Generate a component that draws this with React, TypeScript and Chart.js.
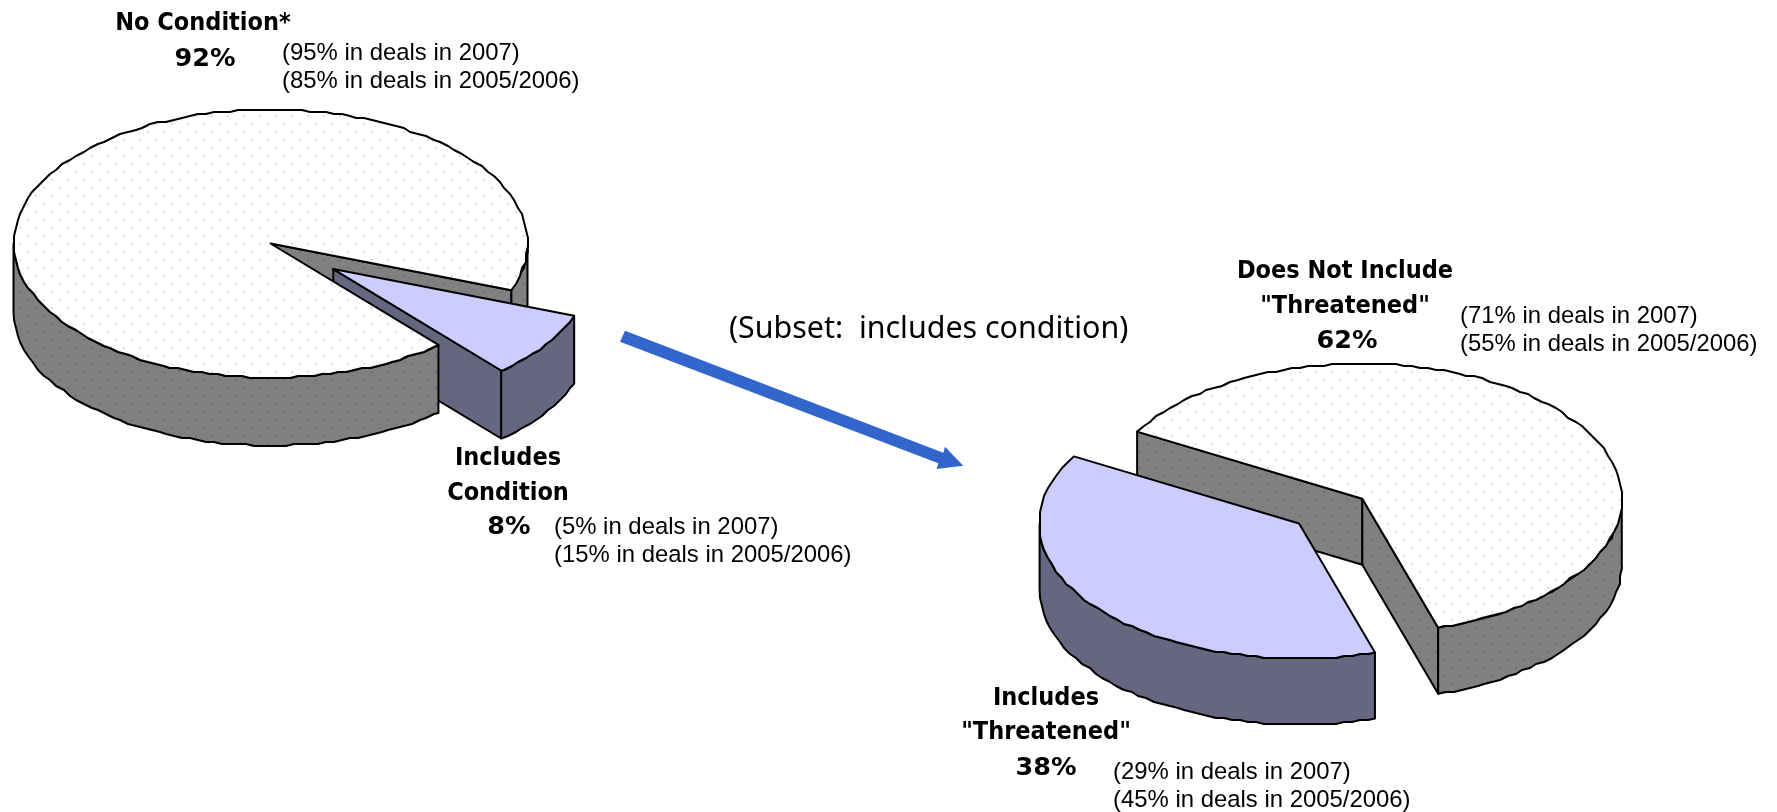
import React, { useEffect, useRef } from "react";
import { Chart, registerables } from "chart.js";

Chart.register(...registerables);

const W = 1777;
const H = 812;

const firstCategories = ["Includes Condition", "No Condition*"];
const firstValues = [8, 92];
const secondCategories = ['Includes "Threatened"', 'Does Not Include "Threatened"'];
const secondValues = [38, 62];

const LIGHT = { top: "#CCCCFF", side: "#666680", dot: null, topDot: null };
const DOTTED = { top: "#FFFFFF", side: "#808080", topDot: "#DCDCFF", dot: "#6E6E96" };

// centre, radii and tilt of each pie; the first slice is pulled out along pullAngle
const firstPie = { cx: 270.5, cy: 243.5, rx: 257, ry: 134, depth: 68, rotation: 110.4, pull: 0.31, pullAngle: 38 };
const secondPie = { cx: 1362.3, cy: 498.7, rx: 259.5, ry: 135, depth: 66, rotation: 163, pull: 0.305, pullAngle: 143 };

const wordLabels: [string, number, number][] = [
  ["No Condition*", 203, 21],
  ["Includes", 508, 456],
  ["Condition", 508, 491],
  ["Does Not Include", 1345, 269],
  ['"Threatened"', 1345, 304],
  ["Includes", 1046, 696],
  ['"Threatened"', 1046, 730],
];
const percentLabels: [string, number, number][] = [
  ["92%", 205, 57],
  ["8%", 509, 525],
  ["62%", 1347, 339],
  ["38%", 1046, 766],
];
const noteLabels: [string, number, number][] = [
  ["(95% in deals in 2007)", 282, 52],
  ["(85% in deals in 2005/2006)", 282, 80],
  ["(5% in deals in 2007)", 554, 526],
  ["(15% in deals in 2005/2006)", 554, 554],
  ["(71% in deals in 2007)", 1460, 315],
  ["(55% in deals in 2005/2006)", 1460, 343],
  ["(29% in deals in 2007)", 1113, 771],
  ["(45% in deals in 2005/2006)", 1113, 799],
];
const subsetLabel = "(Subset:  includes condition)";

function dotPattern(ctx: CanvasRenderingContext2D, base: string, dot: string | null) {
  if (!dot) return base;
  const c = document.createElement("canvas");
  c.width = 16;
  c.height = 16;
  const g = c.getContext("2d")!;
  g.fillStyle = base;
  g.fillRect(0, 0, 16, 16);
  g.fillStyle = dot;
  g.fillRect(3, 3, 2, 2);
  g.fillRect(11, 11, 2, 2);
  return ctx.createPattern(c, "repeat")!;
}

// The outline of a tilted arc as short chords on a coarse grid, like the original's rough edge.
function edgePoints(x: number, y: number, rx: number, ry: number, s: number, e: number) {
  const grid = 2;
  const pts: [number, number][] = [[x + Math.cos(s) * rx, y + Math.sin(s) * ry]];
  const dir = e > s ? 1 : -1;
  let a = s;
  for (;;) {
    const speed = Math.hypot(Math.sin(a) * rx, Math.cos(a) * ry);
    a += (dir * 8) / speed;
    if ((a - e) * dir >= -0.01) break;
    pts.push([
      Math.round((x + Math.cos(a) * rx) / grid) * grid,
      Math.round((y + Math.sin(a) * ry) / grid) * grid,
    ]);
  }
  pts.push([x + Math.cos(e) * rx, y + Math.sin(e) * ry]);
  return pts;
}

// Tilts the arcs the library laid out and gives them a rim.
const tiltedPie = {
  id: "tiltedPie",
  beforeDatasetDraw(chart: any, args: any, opts: any) {
    const ctx: CanvasRenderingContext2D = chart.ctx;
    const arcs = args.meta.data;
    ctx.save();
    ctx.lineWidth = 2;
    ctx.lineJoin = "round";
    ctx.strokeStyle = "#000";
    const paint = (fill: any) => {
      ctx.fillStyle = fill;
      ctx.fill();
      ctx.stroke();
    };
    const geometry = (i: number) => {
      const arc = arcs[i];
      const rx = arc.outerRadius;
      const ry = rx * opts.squash;
      const pull = i === 0 ? opts.pull : 0;
      const dir = (opts.pullAngle * Math.PI) / 180;
      return {
        rx,
        ry,
        a0: arc.startAngle,
        a1: arc.endAngle,
        x: arc.x + Math.cos(dir) * rx * pull,
        y: arc.y + Math.sin(dir) * ry * pull,
        style: i === 0 ? LIGHT : DOTTED,
      };
    };
    const d = opts.depth;
    const drawWalls = (i: number) => {
      const { rx, ry, a0, a1, x, y, style } = geometry(i);
      const fill = dotPattern(ctx, style.side, style.dot);
      const wall = (a: number) => {
        ctx.beginPath();
        ctx.moveTo(x, y);
        ctx.lineTo(x + Math.cos(a) * rx, y + Math.sin(a) * ry);
        ctx.lineTo(x + Math.cos(a) * rx, y + Math.sin(a) * ry + d);
        ctx.lineTo(x, y + d);
        ctx.closePath();
        paint(fill);
      };
      if (Math.sin(a0 - Math.PI / 2) > 0) wall(a0);
      if (Math.sin(a1 + Math.PI / 2) > 0) wall(a1);
    };
    // part: "tail" is the rim piece ending at the slice's last angle, "head" everything else
    const drawRim = (i: number, part: "all" | "head" | "tail") => {
      const { rx, ry, a0, a1, x, y, style } = geometry(i);
      const fill = dotPattern(ctx, style.side, style.dot);
      for (let k = -1; k < 3; k++) {
        const s = Math.max(a0, k * 2 * Math.PI);
        const e = Math.min(a1, k * 2 * Math.PI + Math.PI);
        if (e <= s) continue;
        const isTail = e === a1;
        if ((part === "tail" && !isTail) || (part === "head" && isTail)) continue;
        const upper = edgePoints(x, y, rx, ry, s, e);
        const lower = edgePoints(x, y + d, rx, ry, e, s);
        ctx.beginPath();
        [...upper, ...lower].forEach(([px, py], j) => (j ? ctx.lineTo(px, py) : ctx.moveTo(px, py)));
        ctx.closePath();
        paint(fill);
      }
    };
    const drawTop = (i: number) => {
      const { rx, ry, a0, a1, x, y, style } = geometry(i);
      ctx.beginPath();
      ctx.moveTo(x, y);
      edgePoints(x, y, rx, ry, a0, a1).forEach(([px, py]) => ctx.lineTo(px, py));
      ctx.closePath();
      paint(dotPattern(ctx, style.top, style.topDot));
    };
    // back of the large slice, then the pulled slice, then the front of the large slice
    drawWalls(1);
    drawRim(1, "tail");
    drawWalls(0);
    drawRim(0, "all");
    drawTop(0);
    drawRim(1, "head");
    drawTop(1);
    ctx.restore();
    return false;
  },
};

function pieConfig(labels: string[], values: number[], pie: typeof firstPie) {
  return {
    type: "pie" as const,
    data: { labels, datasets: [{ data: values }] },
    plugins: [tiltedPie],
    options: {
      responsive: false,
      animation: false as const,
      radius: pie.rx,
      rotation: pie.rotation,
      layout: {
        padding: {
          left: Math.max(0, 2 * pie.cx - W),
          right: Math.max(0, W - 2 * pie.cx),
          top: Math.max(0, 2 * pie.cy - H),
          bottom: Math.max(0, H - 2 * pie.cy),
        },
      },
      plugins: {
        legend: { display: false },
        tooltip: { enabled: false },
        title: { display: false },
        tiltedPie: { squash: pie.ry / pie.rx, depth: pie.depth, pull: pie.pull, pullAngle: pie.pullAngle },
      },
    },
  };
}

const layer: React.CSSProperties = { position: "absolute", left: 0, top: 0, display: "block" };
const textBase: React.CSSProperties = { position: "absolute", lineHeight: 1, whiteSpace: "pre", color: "#000" };

export default function App() {
  const a = useRef<HTMLCanvasElement>(null);
  const b = useRef<HTMLCanvasElement>(null);
  useEffect(() => {
    const c1 = new Chart(a.current!, pieConfig(firstCategories, firstValues, firstPie) as any);
    const c2 = new Chart(b.current!, pieConfig(secondCategories, secondValues, secondPie) as any);
    return () => {
      c1.destroy();
      c2.destroy();
    };
  }, []);
  return (
    <div style={{ position: "fixed", left: 0, top: 0, width: W, height: H, overflow: "hidden", background: "#fff" }}>
      <canvas ref={a} width={W} height={H} style={layer} />
      <canvas ref={b} width={W} height={H} style={layer} />
      <svg width={W} height={H} style={layer}>
        <polygon points="625,330.7 943.3,452.7 945,446.7 963.3,465.7 936.7,469 938.3,463.3 620,341.7" fill="#3366CC" />
      </svg>
      {wordLabels.map(([t, x, y], i) => (
        <div
          key={"w" + i}
          style={{
            ...textBase,
            left: x,
            top: y,
            transform: "translate(-50%,-50%)",
            fontFamily: "'DejaVu Sans', sans-serif",
            fontStretch: "condensed",
            fontWeight: "bold",
            fontSize: 25,
          }}
        >
          {t}
        </div>
      ))}
      {percentLabels.map(([t, x, y], i) => (
        <div
          key={"p" + i}
          style={{
            ...textBase,
            left: x,
            top: y,
            transform: "translate(-50%,-50%)",
            font: "bold 25.5px 'DejaVu Sans', sans-serif",
            lineHeight: 1,
          }}
        >
          {t}
        </div>
      ))}
      {noteLabels.map(([t, x, y], i) => (
        <div
          key={"n" + i}
          style={{
            ...textBase,
            left: x,
            top: y,
            transform: "translateY(-50%)",
            font: "23.9px 'Liberation Sans', Arial, sans-serif",
            lineHeight: 1,
          }}
        >
          {t}
        </div>
      ))}
      <div
        style={{
          ...textBase,
          left: 729,
          top: 326,
          transform: "translateY(-50%)",
          font: "30.4px 'Noto Sans', sans-serif",
          lineHeight: 1,
        }}
      >
        {subsetLabel}
      </div>
    </div>
  );
}
